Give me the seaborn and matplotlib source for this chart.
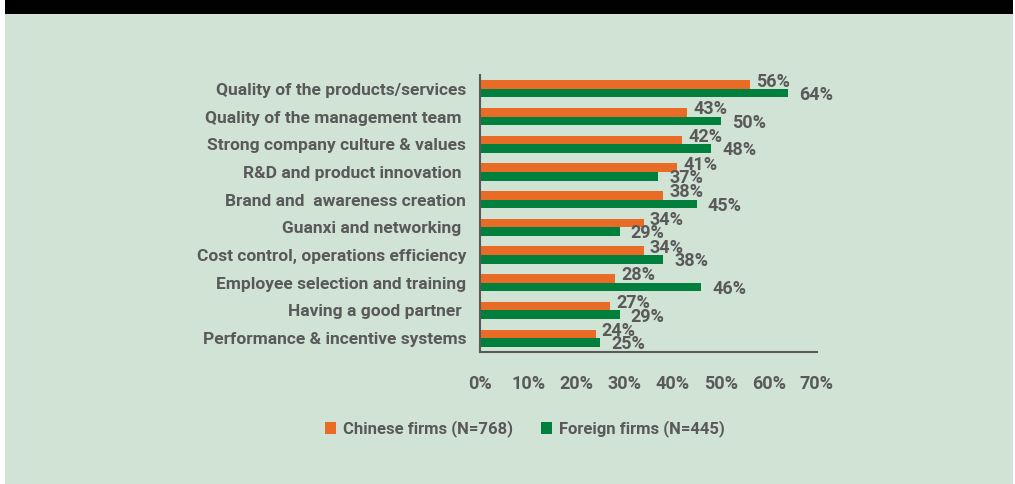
import matplotlib
matplotlib.use("Agg")
import matplotlib.pyplot as plt
import matplotlib.patches as mpatches
import seaborn as sns
import pandas as pd

categories = [
    "Quality of the products/services",
    "Quality of the management team ",
    "Strong company culture & values",
    "R&D and product innovation ",
    "Brand and  awareness creation",
    "Guanxi and networking ",
    "Cost control, operations efficiency",
    "Employee selection and training",
    "Having a good partner ",
    "Performance & incentive systems",
]
chinese = [56, 43, 42, 41, 38, 34, 34, 28, 27, 24]
foreign = [64, 50, 48, 37, 45, 29, 38, 46, 29, 25]
series_names = ["Chinese firms (N=768)", "Foreign firms (N=445)"]
xticks = [0, 10, 20, 30, 40, 50, 60, 70]
xticklabels = ["0%", "10%", "20%", "30%", "40%", "50%", "60%", "70%"]

df = pd.DataFrame({
    "category": categories * 2,
    "value": chinese + foreign,
    "series": [series_names[0]] * len(categories) + [series_names[1]] * len(categories),
})

sns.set_theme(style="white")
plt.rcParams["font.family"] = ["Roboto", "DejaVu Sans"]
plt.rcParams["font.weight"] = "bold"

W, H = 1015, 484
fig = plt.figure(figsize=(W / 100, H / 100), dpi=100, facecolor="white")
fig.patches.append(mpatches.Rectangle((5 / W, 0), (1013 - 5) / W, 1 - 14 / H,
                                      transform=fig.transFigure, facecolor="#d1e3d4",
                                      edgecolor="none", zorder=-10))
fig.patches.append(mpatches.Rectangle((5 / W, 1 - 14 / H), (1013 - 5) / W, 14 / H,
                                      transform=fig.transFigure, facecolor="black",
                                      edgecolor="none", zorder=-10))

ax = fig.add_axes([480 / W, 1 - 352 / H, (817 - 480) / W, (352 - 75) / H])
ax.set_facecolor("none")

orange = "#e86c25"
green = "#00803c"
txt = "#595959"

sns.barplot(data=df, y="category", x="value", hue="series", orient="h",
            palette=[orange, green], width=0.62, linewidth=0, saturation=1,
            ax=ax, legend=False)

ax.set_xlim(0, 70)
ax.set_ylim(len(categories) - 0.5, -0.5)
ax.set_xticks(xticks)
ax.set_xticklabels(xticklabels)
ax.set_xlabel("")
ax.set_ylabel("")

for s in ["top", "right"]:
    ax.spines[s].set_visible(False)
for s in ["left", "bottom"]:
    ax.spines[s].set_color(txt)
    ax.spines[s].set_linewidth(1.5)

ax.set_yticks([i + 0.0 for i in range(len(categories))])
ax.set_yticklabels(categories)
ax.tick_params(axis="y", which="major", length=0, pad=10, labelsize=12.5, labelcolor=txt)
ax.set_yticks([i - 0.5 for i in range(len(categories) + 1)], minor=True)
ax.tick_params(axis="y", which="minor", length=4.5, width=1.5, color=txt, direction="out")
ax.tick_params(axis="x", length=3, width=1.5, color=txt, direction="out", pad=13.5,
               labelsize=13, labelcolor=txt)
for lab in ax.get_yticklabels() + ax.get_xticklabels():
    lab.set_fontweight("bold")

offsets = [(4.5, 2.2), (8.0, -1.3)]
for ci, cont in enumerate(ax.containers):
    dx, dy = offsets[ci]
    for patch in cont:
        w = patch.get_width()
        yc = patch.get_y() + patch.get_height() / 2
        ax.annotate(f"{w:.0f}%", xy=(w, yc), xytext=(dx, dy), textcoords="offset points",
                    ha="left", va="center", fontsize=13, fontweight="bold", color=txt,
                    annotation_clip=False)

handles = [mpatches.Patch(facecolor=orange, edgecolor="none"),
           mpatches.Patch(facecolor=green, edgecolor="none")]
leg = fig.legend(handles, series_names, loc="center", ncol=2,
                 bbox_to_anchor=(525 / W, 1 - 429 / H), frameon=False,
                 handlelength=0.65, handleheight=0.7, handletextpad=0.4,
                 columnspacing=1.7, prop={"size": 12, "weight": "bold"})
for t in leg.get_texts():
    t.set_color(txt)

fig.savefig("out.png", dpi=100, facecolor=fig.get_facecolor())
